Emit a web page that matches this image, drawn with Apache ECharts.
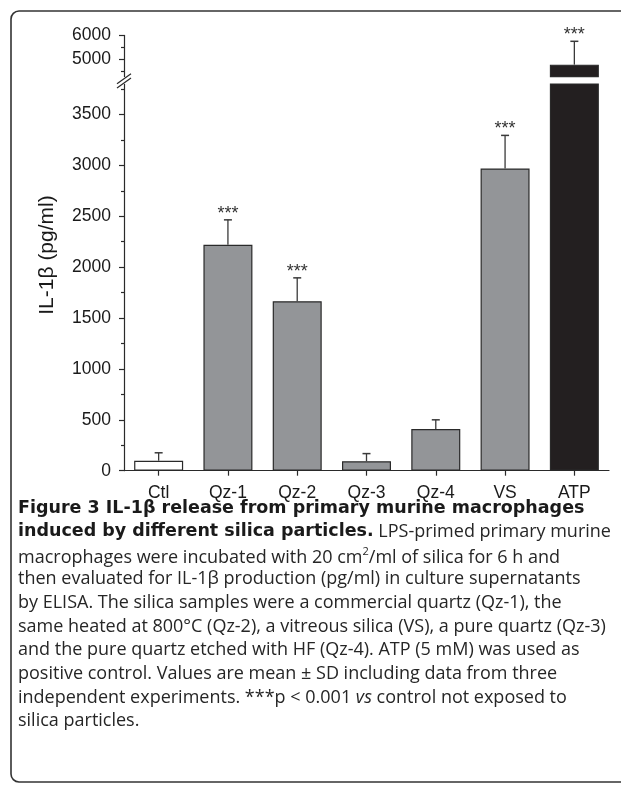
<!DOCTYPE html>
<html>
<head>
<meta charset="utf-8">
<script src="https://cdn.jsdelivr.net/npm/echarts@6/dist/echarts.min.js"></script>
<style>
html,body{margin:0;padding:0;background:#fff;}
#c{width:621px;height:785px;}
</style>
</head>
<body>
<div id="c"></div>
<script>
// ---- data ----
const categories = ['Ctl', 'Qz-1', 'Qz-2', 'Qz-3', 'Qz-4', 'VS', 'ATP'];
const means = [98, 2220, 1665, 93, 410, 2970, 4760];
const sds = [78, 245, 230, 75, 90, 325, 990];
const stars = ['', '***', '***', '', '', '***', '***'];
const barColors = ['#ffffff', '#939598', '#939598', '#939598', '#939598', '#939598', '#231f20'];
const lowerMajorTicks = [0, 500, 1000, 1500, 2000, 2500, 3000, 3500];
const lowerMinorTicks = [250, 750, 1250, 1750, 2250, 2750, 3250, 3750];
const upperMajorTicks = [5000, 6000];
const upperMinorTicks = [4500, 5500];
const lowerRange = [0, 3800];
const upperRange = [4250, 6000];
const yTitle = 'IL-1β (pg/ml)';
const captionLines = [
  [['b', 'Figure 3 IL-1β release from primary murine macrophages']],
  [['b', 'induced by different silica particles.'], ['r', ' LPS-primed primary murine']],
  [['r', 'macrophages were incubated with 20 cm'], ['sup', '2'], ['r', '/ml of silica for 6 h and']],
  [['r', 'then evaluated for IL-1β production (pg/ml) in culture supernatants']],
  [['r', 'by ELISA. The silica samples were a commercial quartz (Qz-1), the']],
  [['r', 'same heated at 800°C (Qz-2), a vitreous silica (VS), a pure quartz (Qz-3)']],
  [['r', 'and the pure quartz etched with HF (Qz-4). ATP (5 mM) was used as']],
  [['r', 'positive control. Values are mean ± SD including data from three']],
  [['r', 'independent experiments. ***p < 0.001 '], ['i', 'vs'], ['r', ' control not exposed to']],
  [['r', 'silica particles.']]
];

// ---- layout ----
const G = {left: 124, width: 485, upTop: 35.4, upH: 41.3, loTop: 84, loH: 386.7};
const AX = '#2a2a2a';
const FONT = 'Liberation Sans';

const chart = echarts.init(document.getElementById('c'), null, {renderer: 'canvas'});

function xAx(gridIndex, show) {
  return {
    type: 'category', gridIndex, data: categories, show,
    axisLine: {show, lineStyle: {color: AX, width: 1.2}},
    axisTick: {show, alignWithLabel: true, length: 5, lineStyle: {color: AX, width: 1.2}},
    axisLabel: {show, margin: 13, fontFamily: FONT, fontSize: 17.5, color: '#1a1a1a'},
    splitLine: {show: false}
  };
}
function yAx(gridIndex, range, ticks, labels, len, line) {
  return {
    type: 'value', gridIndex, position: 'left', min: range[0], max: range[1],
    axisLine: {show: line, lineStyle: {color: AX, width: 1.2}},
    axisTick: {show: true, length: len, customValues: ticks, lineStyle: {color: AX, width: 1.2}},
    axisLabel: labels ? {show: true, customValues: labels, margin: 13, formatter: v => String(v),
      fontFamily: FONT, fontSize: 17.5, color: '#1a1a1a'} : {show: false},
    splitLine: {show: false}
  };
}

function errItemFor(range) {
  return function (params, api) {
    const i = api.value(0), m = api.value(1), s = api.value(2);
    if (m + s < range[0] || m + s > range[1]) return null;
    const p0 = api.coord([i, Math.max(m, range[0])]);
    const p1 = api.coord([i, m + s]);
    const x = p0[0];
    const children = [
      {type: 'line', shape: {x1: x, y1: p0[1], x2: x, y2: p1[1]}, style: {stroke: '#3a3a3a', lineWidth: 1.3}},
      {type: 'line', shape: {x1: x - 4, y1: p1[1], x2: x + 4, y2: p1[1]}, style: {stroke: '#3a3a3a', lineWidth: 1.5}}
    ];
    const st = stars[params.dataIndex];
    if (st) {
      children.push({type: 'text', style: {text: st, x: x, y: p1[1] + 3, align: 'center', verticalAlign: 'bottom',
        font: '18px "Liberation Sans"', fill: '#333'}});
    }
    return {type: 'group', children};
  };
}
const errData = means.map((m, i) => [i, m, sds[i]]);

const barItems = means.map((m, i) => ({value: m, itemStyle: {color: barColors[i]}}));
const upperBarItems = means.map((m, i) => (m > upperRange[0] ? {value: m, itemStyle: {color: barColors[i]}} : '-'));

const TXT = '#262626';
const caption = captionLines.map((ln, k) => ({
  type: 'text', left: 18, top: 499 + k * 23.7,
  style: {
    text: ln.map(t => '{' + t[0] + '|' + t[1] + '}').join(''),
    rich: {
      b: {fontFamily: 'DejaVu Sans', fontWeight: 'bold', fontSize: 17.5, fill: '#1a1a1a', lineHeight: 22},
      r: {fontFamily: 'Open Sans', fontSize: 18, fill: TXT, lineHeight: 22},
      i: {fontFamily: 'Open Sans', fontStyle: 'italic', fontSize: 18, fill: TXT, lineHeight: 22},
      sup: {fontFamily: 'Open Sans', fontSize: 11, fill: TXT, lineHeight: 12, verticalAlign: 'top'}
    }
  }
}));

const FR = {x: 11, y: 11, b: 782, r: 8};
const frameStyle = {fill: 'none', stroke: '#333', lineWidth: 1.6};
const option = {
  animation: false,
  backgroundColor: '#fff',
  grid: [
    {left: G.left, width: G.width, top: G.upTop, height: G.upH},
    {left: G.left, width: G.width, top: G.loTop, height: G.loH}
  ],
  xAxis: [xAx(0, false), xAx(1, true)],
  yAxis: [
    yAx(0, upperRange, upperMajorTicks, upperMajorTicks, 5, true),
    yAx(0, upperRange, upperMinorTicks, null, 3, false),
    yAx(1, lowerRange, lowerMajorTicks, lowerMajorTicks, 5, true),
    yAx(1, lowerRange, lowerMinorTicks, null, 3, false)
  ],
  series: [
    {type: 'bar', xAxisIndex: 1, yAxisIndex: 2, data: barItems, barWidth: 49,
      itemStyle: {borderColor: '#2a2a2a', borderWidth: 1.2}},
    {type: 'bar', xAxisIndex: 0, yAxisIndex: 0, data: upperBarItems, barWidth: 49,
      itemStyle: {borderColor: '#2a2a2a', borderWidth: 1.2}},
    {type: 'custom', xAxisIndex: 1, yAxisIndex: 2, data: errData, renderItem: errItemFor(lowerRange), clip: false, z: 3},
    {type: 'custom', xAxisIndex: 0, yAxisIndex: 0, data: errData, renderItem: errItemFor(upperRange), clip: false, z: 3}
  ],
  graphic: [
    {type: 'polyline', shape: {points: [[900, FR.y], [FR.x + FR.r, FR.y]]}, style: frameStyle, silent: true},
    {type: 'arc', shape: {cx: FR.x + FR.r, cy: FR.y + FR.r, r: FR.r, startAngle: Math.PI, endAngle: Math.PI * 1.5}, style: frameStyle, silent: true},
    {type: 'polyline', shape: {points: [[FR.x, FR.y + FR.r], [FR.x, FR.b - FR.r]]}, style: frameStyle, silent: true},
    {type: 'arc', shape: {cx: FR.x + FR.r, cy: FR.b - FR.r, r: FR.r, startAngle: Math.PI * 0.5, endAngle: Math.PI}, style: frameStyle, silent: true},
    {type: 'polyline', shape: {points: [[FR.x + FR.r, FR.b], [900, FR.b]]}, style: frameStyle, silent: true},
    {type: 'text', x: 47, y: 255, rotation: Math.PI / 2,
      style: {text: yTitle, align: 'center', verticalAlign: 'middle', font: '21px "Liberation Sans"', fill: '#1a1a1a'}},
    {type: 'rect', shape: {x: G.left - 3, y: G.upTop + G.upH + 0.5, width: 6, height: G.loTop - G.upTop - G.upH - 1}, style: {fill: '#fff'}, z: 100},
    {type: 'line', shape: {x1: G.left - 7, y1: G.upTop + G.upH + 7, x2: G.left + 7, y2: G.upTop + G.upH - 3}, style: {stroke: AX, lineWidth: 1.2}, z: 101},
    {type: 'line', shape: {x1: G.left - 7, y1: G.loTop + 4, x2: G.left + 7, y2: G.loTop - 6}, style: {stroke: AX, lineWidth: 1.2}, z: 101}
  ].concat(caption)
};
chart.setOption(option);
</script>
</body>
</html>
